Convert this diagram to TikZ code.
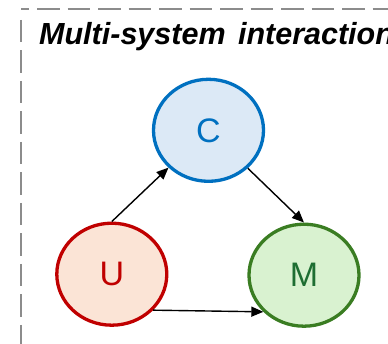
\documentclass[tikz,border=0pt]{standalone}
\usepackage{fontspec}
\setmainfont{Liberation Sans}
\usetikzlibrary{shapes.geometric,arrows.meta}
\definecolor{frameg}{HTML}{8C8C8C}
\definecolor{cstroke}{HTML}{0070C0}
\definecolor{cfill}{HTML}{DCE9F6}
\definecolor{ustroke}{HTML}{C00000}
\definecolor{ufill}{HTML}{FBE4D6}
\definecolor{mstroke}{HTML}{3A7D22}
\definecolor{mfill}{HTML}{D9F2D0}
\definecolor{mtext}{HTML}{1E6E32}
\tikzset{
  sysnode/.style={ellipse, line width=3.3pt, minimum width=110pt, minimum height=102pt, inner sep=0pt,
    font=\fontsize{34}{36}\selectfont},
  framedash/.style={draw=frameg, line width=2.7pt, dash pattern=on 22.5pt off 8pt},
  link/.style={draw=black, line width=1.4pt, -{Triangle[length=12pt,width=10pt]}}
}
\begin{document}
\begin{tikzpicture}[x=1pt,y=-1pt]
\path[use as bounding box, clip] (0,0) rectangle (388,344);
\fill[white] (0,0) rectangle (388,344);
% dashed frame
\coordinate (tl) at (21,9);
\coordinate (tr) at (420,9);
\coordinate (lt) at (21,20);
\coordinate (lb) at (21,380);
\draw[framedash, dash phase=14.5pt] (tl) -- (tr);
\draw[framedash] (lt) -- (lb);
% title
\node[anchor=base west, inner sep=0pt, font=\fontsize{30.5}{34}\selectfont\bfseries\itshape] (title) at (39,45) {Multi-system\hspace{4pt} interaction};
% systems
\node[sysnode, draw=cstroke, fill=cfill, text=cstroke] (C) at (208.5,130.3) {C};
\node[sysnode, draw=ustroke, fill=ufill, text=ustroke] (U) at (111.8,274.2) {U};
\node[sysnode, draw=mstroke, fill=mfill, text=mtext] (M) at (304,275.2) {M};
% links
\draw[link] (U.north) -- (C.223);
\draw[link] (C.316) -- (M.north);
\draw[link] (U.319) -- (M.222);
\end{tikzpicture}
\end{document}
